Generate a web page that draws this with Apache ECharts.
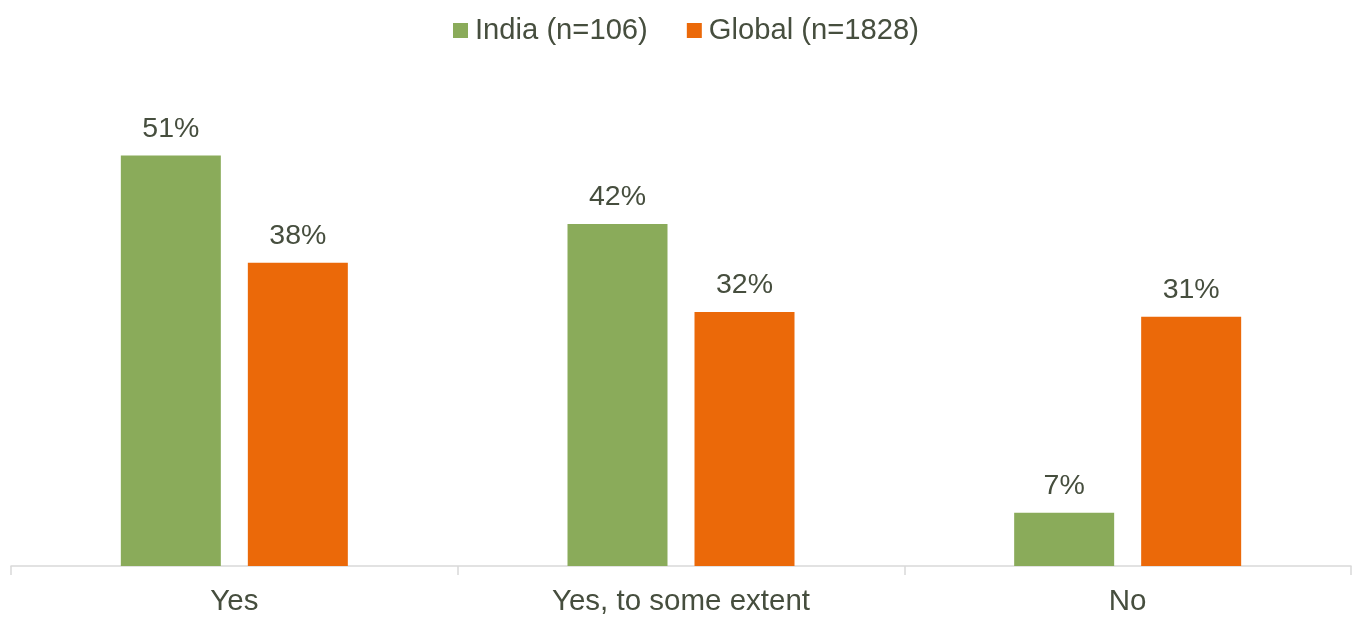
<!DOCTYPE html>
<html>
<head>
<meta charset="utf-8">
<script src="https://cdn.jsdelivr.net/npm/echarts@6/dist/echarts.min.js"></script>
<style>
html,body{margin:0;padding:0;background:#fff;}
#chart{width:1356px;height:617px;}
</style>
</head>
<body>
<div id="chart"></div>
<script>
const categories = ["Yes", "Yes, to some extent", "No"];
const seriesNames = ["India (n=106)", "Global (n=1828)"];
const indiaValues = [50.9, 42.4, 6.6];
const globalValues = [37.6, 31.5, 30.9];

const textColor = "#464e3e";
const fontFamily = "'Liberation Sans', Arial, sans-serif";

const chart = echarts.init(document.getElementById("chart"), null, {renderer: "canvas"});
const labelCfg = {
  show: true,
  position: "top",
  distance: 12,
  color: textColor,
  fontSize: 28.5,
  fontFamily: fontFamily,
  formatter: p => Math.round(p.value) + "%"
};
chart.setOption({
  animation: false,
  backgroundColor: "#ffffff",
  legend: {
    top: 11,
    left: 448,
    padding: 5,
    itemWidth: 15,
    itemHeight: 15,
    itemGap: 39,
    icon: "rect",
    textStyle: {color: textColor, fontSize: 29.2, fontFamily: fontFamily, padding: [0, 0, 0, 2]},
    data: seriesNames
  },
  grid: {left: 11, right: 5, top: 82, bottom: 47, containLabel: false},
  xAxis: {
    type: "category",
    data: categories,
    axisLine: {lineStyle: {color: "#d9d9d9", width: 1.5}},
    axisTick: {show: true, length: 9, lineStyle: {color: "#d9d9d9", width: 1.5}},
    axisLabel: {color: textColor, fontSize: 29.5, fontFamily: fontFamily, margin: 21}
  },
  yAxis: {
    type: "value",
    min: 0,
    max: 60,
    show: false,
    splitLine: {show: false}
  },
  series: [
    {
      name: seriesNames[0],
      type: "bar",
      data: indiaValues,
      barWidth: 100,
      barGap: "27%",
      itemStyle: {color: "#8aab5a"},
      label: labelCfg
    },
    {
      name: seriesNames[1],
      type: "bar",
      data: globalValues,
      barWidth: 100,
      barGap: "27%",
      itemStyle: {color: "#eb6909"},
      label: labelCfg
    }
  ]
});
</script>
</body>
</html>
